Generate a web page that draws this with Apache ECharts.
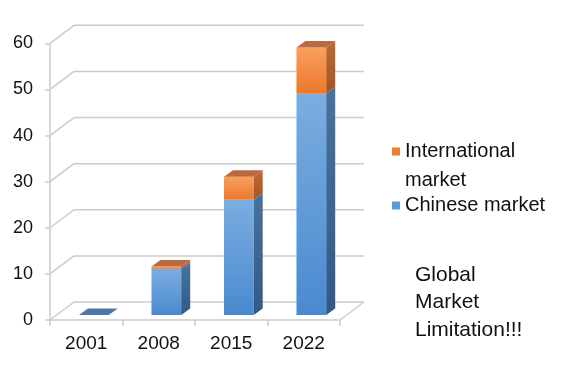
<!DOCTYPE html>
<html>
<head>
<meta charset="utf-8">
<script src="https://cdn.jsdelivr.net/npm/echarts@6/dist/echarts.min.js"></script>
<style>
html,body{margin:0;padding:0;background:#fff;}
#chart{width:562px;height:374px;}
</style>
</head>
<body>
<div id="chart"></div>
<script>
// ---- data ----
var categories = ['2001', '2008', '2015', '2022'];
var chineseMarket = [0, 10, 25, 48];
var internationalMarket = [0, 0.5, 5, 10];
var yTicks = [0, 10, 20, 30, 40, 50, 60];
var seriesNames = ['Chinese market', 'International\nmarket'];
var noteText = 'Global\nMarket\nLimitation!!!';

// ---- style constants ----
var FONT = '"Liberation Sans", Arial, sans-serif';
var WALL = [24, -18];       // depth of the back wall
var BAR_SHIFT = [7.6, -5];  // front face of the bars, into the scene
var BAR_DEPTH = [9, -6.5];  // depth of each bar
var LINE_COLOR = '#cbcbcb';

var palette = {
  blue: {front: ['#7bade0', '#4a8ad0'], side: ['#46739f', '#30598a'], top: '#4c76ac', legend: '#5b9bd5'},
  orange: {front: ['#f8a060', '#eb782a'], side: ['#be6a35', '#a9541f'], top: '#b96a40', legend: '#ed7d31'}
};

// stacked segments built from the arrays: [category, start, end, isTopOfStack]
function segments(vals, below, upper) {
  return vals.map(function (v, i) {
    var start = below ? below[i] : 0;
    var isTop = upper ? (upper[i] <= 0) : (v > 0);
    return [i, start, start + v, isTop ? 1 : 0];
  });
}
var chineseData = segments(chineseMarket, null, internationalMarket);
var internationalData = segments(internationalMarket, chineseMarket, null);

function grad(c) {
  return new echarts.graphic.LinearGradient(0, 0, 0, 1, [
    {offset: 0, color: c[0]}, {offset: 1, color: c[1]}
  ]);
}

function barRenderer(pal) {
  return function (params, api) {
    var cat = api.value(0), start = api.value(1), end = api.value(2), isTop = api.value(3);
    var b = api.coord([cat, start]);
    var t = api.coord([cat, end]);
    var band = api.size([1, 0])[0];
    var w = band * 0.41;
    var xL = b[0] - w / 2 + BAR_SHIFT[0], xR = xL + w;
    var yB = b[1] + BAR_SHIFT[1], yT = t[1] + BAR_SHIFT[1];
    var dx = BAR_DEPTH[0], dy = BAR_DEPTH[1];
    var children = [];
    if (end - start > 0) {
      children.push({type: 'polygon', shape: {points: [[xL, yT], [xR, yT], [xR, yB], [xL, yB]]},
        style: {fill: grad(pal.front)}});
      children.push({type: 'polygon', shape: {points: [[xR, yT], [xR + dx, yT + dy], [xR + dx, yB + dy], [xR, yB]]},
        style: {fill: grad(pal.side)}});
    }
    if (isTop) {
      children.push({type: 'polygon', shape: {points: [[xL, yT], [xR, yT], [xR + dx, yT + dy], [xL + dx, yT + dy]]},
        style: {fill: pal.top}});
    }
    return {type: 'group', children: children};
  };
}

function wallRenderer(params, api) {
  var cs = params.coordSys;
  var x0 = cs.x, x1 = cs.x + cs.width;
  var v = api.value(0);
  var y = api.coord([0, v])[1];
  var children = [
    {type: 'line', shape: {x1: x0, y1: y, x2: x0 + WALL[0], y2: y + WALL[1]},
      style: {stroke: LINE_COLOR, lineWidth: 1.5}},
    {type: 'line', shape: {x1: x0 + WALL[0], y1: y + WALL[1], x2: x1 + WALL[0], y2: y + WALL[1]},
      style: {stroke: LINE_COLOR, lineWidth: 1.5}}
  ];
  if (v === yTicks[0]) {
    children.push({type: 'line', shape: {x1: x1, y1: y, x2: x1 + WALL[0], y2: y + WALL[1]},
      style: {stroke: LINE_COLOR, lineWidth: 1.5}});
  }
  return {type: 'group', children: children};
}

var chart = echarts.init(document.getElementById('chart'), null, {renderer: 'canvas'});
chart.setOption({
  animation: false,
  backgroundColor: '#fff',
  title: {
    text: noteText,
    left: 415, top: 261, padding: 0,
    textStyle: {fontFamily: FONT, fontSize: 21, fontWeight: 'normal', color: '#111', lineHeight: 27.5}
  },
  legend: [{
    data: [seriesNames[1]],
    orient: 'vertical', left: 392, top: 108, padding: 0,
    itemWidth: 8, itemHeight: 8, icon: 'rect',
    formatter: function (n) { return '\n' + n; },
    textStyle: {fontFamily: FONT, fontSize: 20, color: '#111', lineHeight: 29}
  }, {
    data: [seriesNames[0]],
    orient: 'vertical', left: 392, top: 191, padding: 0,
    itemWidth: 8, itemHeight: 8, icon: 'rect',
    textStyle: {fontFamily: FONT, fontSize: 20, color: '#111', lineHeight: 29}
  }],
  grid: {left: 50, top: 43.3, right: 222, bottom: 54, containLabel: false},
  xAxis: {
    type: 'category', data: categories,
    axisLine: {show: true, lineStyle: {color: LINE_COLOR, width: 1.5}},
    axisTick: {show: true, length: 6, lineStyle: {color: LINE_COLOR, width: 1.5}},
    axisLabel: {fontFamily: FONT, fontSize: 19, color: '#111', margin: 14},
    splitLine: {show: false}
  },
  yAxis: {
    type: 'value', min: 0, max: 60, interval: 10,
    axisLine: {show: true, lineStyle: {color: LINE_COLOR, width: 1.5}},
    axisTick: {show: true, length: 5, lineStyle: {color: LINE_COLOR, width: 1.5}},
    axisLabel: {fontFamily: FONT, fontSize: 18, color: '#111', margin: 17},
    splitLine: {show: false}
  },
  series: [{
    type: 'custom', name: 'walls', silent: true, z: 1,
    renderItem: wallRenderer,
    encode: {y: 0},
    data: yTicks.map(function (v) { return [v]; })
  }, {
    type: 'custom', name: seriesNames[0], z: 2,
    itemStyle: {color: palette.blue.legend},
    renderItem: barRenderer(palette.blue),
    encode: {x: 0, y: [1, 2]},
    data: chineseData
  }, {
    type: 'custom', name: seriesNames[1], z: 3,
    itemStyle: {color: palette.orange.legend},
    renderItem: barRenderer(palette.orange),
    encode: {x: 0, y: [1, 2]},
    data: internationalData
  }]
});
</script>
</body>
</html>
